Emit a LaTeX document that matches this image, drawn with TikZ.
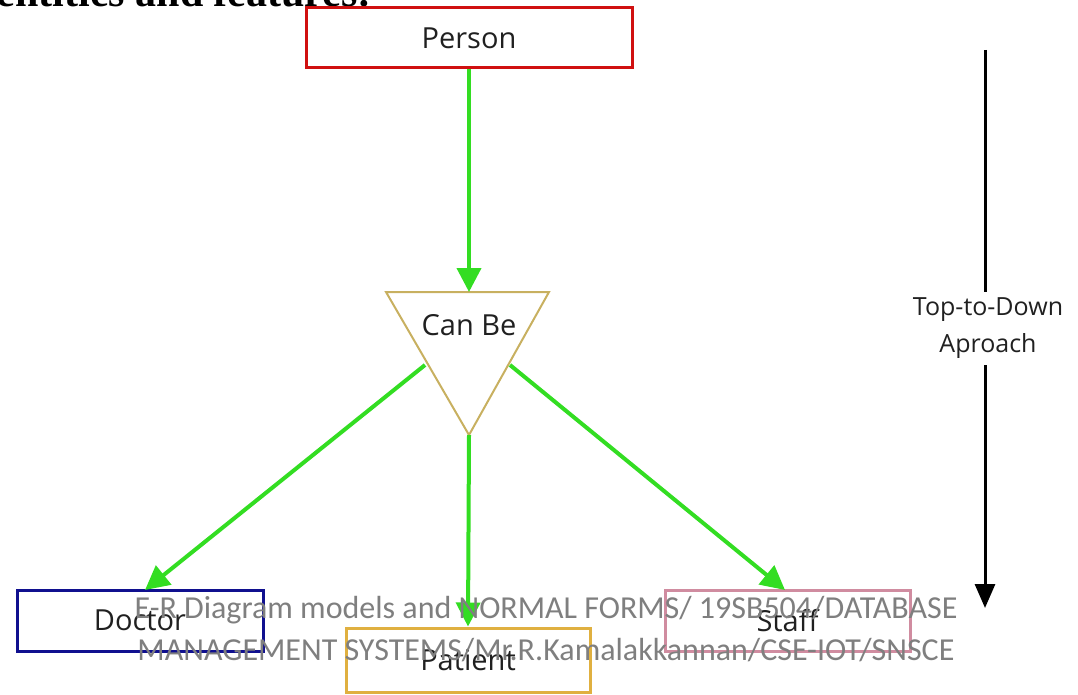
\documentclass[tikz,border=0pt]{standalone}
\usepackage{fontspec}
\setmainfont{Open Sans}
\newfontfamily\titlefont{Liberation Serif}
\newfontfamily\wmfont{Carlito}
\usetikzlibrary{arrows.meta}
\definecolor{garrow}{HTML}{33DD22}
\definecolor{personred}{HTML}{D01010}
\definecolor{docblue}{HTML}{10108F}
\definecolor{patgold}{HTML}{E0B040}
\definecolor{staffpink}{HTML}{D08CA0}
\definecolor{triolive}{HTML}{C8B060}
\definecolor{wmgray}{HTML}{7F7F7F}
\definecolor{txt}{HTML}{202020}
\tikzset{
  entity/.style={draw, line width=3pt, minimum width=#1, fill=white, text=txt,
    font=\fontsize{29}{32}\selectfont, inner sep=0pt},
  garr/.style={draw=garrow, line width=4pt, -{Triangle[length=24pt,width=24pt]}},
  barr/.style={draw=black, line width=3pt, -{Triangle[length=24pt,width=20pt]}},
  note/.style={font=\fontsize{25}{37}\selectfont, text=txt, align=center, inner sep=0pt},
  wm/.style={font=\wmfont\fontsize{32}{42}\selectfont, text=wmgray, align=center, inner sep=0pt}
}
\begin{document}
\begin{tikzpicture}[x=1pt,y=-1pt]
\useasboundingbox (0,0) rectangle (1078,695);
\begin{scope}
\clip (0,0) rectangle (1078,695);
\node[anchor=base east, inner sep=0pt, font=\titlefont\bfseries\fontsize{42}{46}\selectfont] (title) at (372,7) {entities and features:};
\end{scope}
% entities
\node[entity=326pt, minimum height=60pt, draw=personred] (person) at (469,38) {Person};
\node[entity=246pt, minimum height=61pt, draw=docblue] (doctor) at (140,620.5) {Doctor};
\node[entity=244pt, minimum height=64pt, draw=patgold] (patient) at (468,660) {Patient};
\node[entity=245pt, minimum height=61pt, draw=staffpink] (staff) at (787.5,620.5) {Staff};
% triangle
\coordinate (tl) at (386,292);
\coordinate (tr) at (549,292);
\coordinate (ta) at (469,435);
\draw[triolive, line width=2pt] (tl) -- (tr) -- (ta) -- cycle;
\node[font=\fontsize{29}{32}\selectfont, text=txt, inner sep=0pt] (canbe) at (469,325) {Can Be};
\coordinate (tlo) at (425,365);
\coordinate (tro) at (510,365);
\coordinate (ttop) at (469,292);
% connectors
\draw[garr] (person.south) -- (ttop);
\draw[garr] (tlo) -- (145,590);
\draw[garr] (ta) -- (patient.north);
\draw[garr] (tro) -- (785,590);
% top-to-down
\node[note] (td) at (988,328) {Top-to-Down\\Aproach};
\coordinate (tdtop) at (985,50);
\coordinate (tdbot) at (985,608);
\draw[black, line width=3pt] (tdtop) -- (985,292);
\draw[barr] (985,365) -- (tdbot);
% watermark
\node[wm] (wmark) at (546,629) {E-R Diagram models and NORMAL FORMS/ 19SB504/DATABASE\\MANAGEMENT SYSTEMS/Mr.R.Kamalakkannan/CSE-IOT/SNSCE};
\end{tikzpicture}
\end{document}
